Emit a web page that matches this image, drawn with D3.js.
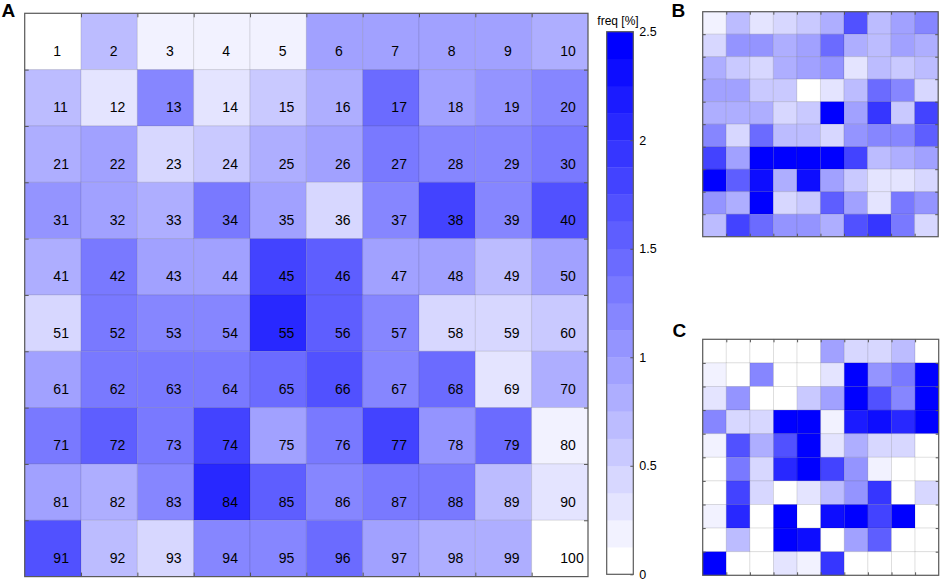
<!DOCTYPE html>
<html>
<head>
<meta charset="utf-8">
<script src="https://cdn.jsdelivr.net/npm/d3@7"></script>
<style>
  html, body { margin: 0; padding: 0; background: #fff; }
  svg { display: block; font-family: "Liberation Sans", Arial, sans-serif; }
</style>
</head>
<body>
<svg id="chart" width="941" height="582"></svg>
<script>
// ---- data (frequency in %) ----
const freqA = [
  [0.05,0.69,0.19,0.19,0.19,0.94,0.94,0.94,0.94,0.81],
  [0.68,0.30,1.18,0.28,0.55,0.80,1.42,0.93,1.05,1.20],
  [0.82,0.95,0.43,0.54,0.81,0.92,1.30,1.17,1.19,1.32],
  [1.07,0.94,0.83,1.31,0.96,0.42,1.18,1.82,1.20,1.68],
  [0.80,1.33,0.93,0.92,1.80,1.57,0.95,0.94,0.70,0.96],
  [0.41,1.29,1.16,1.21,2.07,1.58,1.19,0.44,0.40,0.57],
  [0.93,1.31,1.28,1.30,1.44,1.70,1.17,1.43,0.30,0.82],
  [1.32,1.56,1.30,1.83,0.95,1.31,1.81,1.07,1.45,0.18],
  [0.94,0.82,1.18,2.05,1.57,1.19,1.33,1.30,0.68,0.31],
  [1.69,0.70,0.43,1.18,1.19,1.42,0.93,0.82,0.81,0.04]
];
const freqB = [
  [0.19,0.69,0.31,0.44,0.56,0.81,1.69,0.69,0.94,1.19],
  [0.44,1.06,1.06,0.81,0.94,1.44,0.81,0.69,0.94,0.81],
  [0.81,0.56,0.44,0.81,0.94,1.06,0.31,0.69,0.56,0.69],
  [0.94,0.94,0.56,0.56,0.05,0.31,0.69,1.44,1.19,0.44],
  [0.81,0.81,0.81,0.44,0.56,2.45,0.94,1.94,0.56,1.81],
  [1.19,0.44,1.44,0.69,0.69,0.44,1.06,1.19,1.19,1.56],
  [1.81,0.94,2.45,2.45,2.45,2.45,1.81,0.69,0.81,0.94],
  [2.45,1.56,2.31,0.81,2.31,0.94,0.56,0.31,0.31,0.44],
  [1.06,0.81,2.45,0.44,0.56,1.56,0.94,0.31,1.31,1.06],
  [0.69,1.81,1.44,1.06,1.06,0.81,1.69,1.94,1.31,0.44]
];
const freqC = [
  [0,0,0,0,0,0.94,0.44,0.44,0.69,0],
  [0.19,0,1.19,0,0,0.31,2.7,1.06,1.31,2.7],
  [0.31,1.06,0,0,0.56,0.94,2.7,1.69,1.19,2.7],
  [1.19,0.44,0.44,2.7,2.7,0.19,2.19,2.31,2.06,2.7],
  [0.19,1.69,0.81,1.69,2.7,0.31,0.81,0.44,0.44,0],
  [0,1.31,0.44,2.06,2.7,1.81,1.06,0.19,0,0],
  [0,1.81,0.44,0,0.31,0.69,1.06,1.94,0,0.44],
  [0.19,2.06,0,2.7,0,2.31,2.7,1.81,2.7,0],
  [0,0.69,0,2.7,2.31,0,0.94,1.56,0,0],
  [2.7,0,0,0.31,0.19,1.94,0,0,0,0]
];
const colorbarTicks = [0, 0.5, 1, 1.5, 2, 2.5];
const colorbarTitle = "freq [%]";
const panelLabels = ["A", "B", "C"];
const nLevels = 20;

// ---- colour scale ----
const levels = d3.range(nLevels).map(i => d3.interpolateRgb("#ffffff", "#0000ff")(i / (nLevels - 1)));
const color = d3.scaleQuantize().domain([0, 2.5]).range(levels);

const svg = d3.select("#chart");

function heatmap(data, box, opts) {
  const n = data.length;
  const x = d3.scaleLinear().domain([0, n]).range([box.x, box.x + box.w]);
  const y = d3.scaleLinear().domain([0, n]).range([box.y, box.y + box.h]);
  const g = svg.append("g");
  const cells = [];
  data.forEach((row, r) => row.forEach((v, c) => cells.push({ r, c, v, id: r * n + c + 1 })));
  g.selectAll("rect.cell").data(cells).join("rect")
    .attr("class", "cell")
    .attr("x", d => x(d.c)).attr("y", d => y(d.r))
    .attr("width", x(1) - x(0)).attr("height", y(1) - y(0))
    .attr("fill", d => color(d.v))
    .attr("stroke", "rgba(0,0,0,0.09)").attr("stroke-width", 1);
  if (opts.labels) {
    g.selectAll("text.num").data(cells).join("text")
      .attr("class", "num")
      .attr("x", d => x(d.c + 0.5) + 0.5)
      .attr("y", d => y(d.r + 0.5) + 14.4)
      .attr("font-size", 14).attr("fill", "#000")
      .text(d => d.id);
  }
  const tv = d3.range(1, n);
  const ts = opts.tick;
  const mk = (axis, tr) => g.append("g").attr("transform", tr)
    .call(axis.tickValues(tv).tickFormat("").tickSizeInner(-ts).tickSizeOuter(0))
    .call(s => s.select(".domain").remove())
    .call(s => s.selectAll("line").attr("stroke", "#555"));
  mk(d3.axisTop(x), `translate(0,${box.y})`);
  mk(d3.axisBottom(x), `translate(0,${box.y + box.h})`);
  mk(d3.axisLeft(y), `translate(${box.x},0)`);
  mk(d3.axisRight(y), `translate(${box.x + box.w},0)`);
  g.append("rect").attr("x", box.x).attr("y", box.y).attr("width", box.w).attr("height", box.h)
    .attr("fill", "none").attr("stroke", "#5a5a5a").attr("stroke-width", 1.2);
}

heatmap(freqA, { x: 24.7, y: 13.3, w: 563.3, h: 563.3 }, { labels: true, tick: 4 });
heatmap(freqB, { x: 702.7, y: 11.7, w: 235.5, h: 225 }, { labels: false, tick: 3 });
heatmap(freqC, { x: 702.7, y: 339.3, w: 236, h: 236 }, { labels: false, tick: 3 });

// ---- colorbar ----
const cb = { x: 606.7, y: 31.7, w: 26.6, h: 542.6 };
const cy = d3.scaleLinear().domain([0, 2.5]).range([cb.y + cb.h, cb.y]);
const step = 2.5 / nLevels;
const cbg = svg.append("g");
cbg.selectAll("rect.lv").data(levels).join("rect")
  .attr("class", "lv")
  .attr("x", cb.x).attr("width", cb.w)
  .attr("y", (d, i) => cy((i + 1) * step))
  .attr("height", (d, i) => cy(i * step) - cy((i + 1) * step) + 0.3)
  .attr("fill", d => d);
cbg.append("g").attr("transform", `translate(${cb.x + cb.w},0)`)
  .call(d3.axisRight(cy).tickValues(colorbarTicks).tickFormat(d3.format("")).tickSizeInner(-3).tickSizeOuter(0).tickPadding(6))
  .call(s => s.select(".domain").remove())
  .call(s => s.selectAll("line").attr("stroke", "#555"))
  .call(s => s.selectAll("text").attr("font-size", 12.5).attr("fill", "#000").attr("font-family", "Liberation Sans, Arial, sans-serif"));
cbg.append("rect").attr("x", cb.x).attr("y", cb.y).attr("width", cb.w).attr("height", cb.h)
  .attr("fill", "none").attr("stroke", "#5a5a5a").attr("stroke-width", 1.2);
cbg.append("text").attr("x", cb.x + cb.w / 2 - 2).attr("y", 25)
  .attr("text-anchor", "middle").attr("font-size", 12).attr("fill", "#000").text(colorbarTitle);

// ---- panel labels ----
const labelPos = [[1.5, 17.3], [671.5, 17], [672.5, 336.7]];
svg.selectAll("text.plabel").data(panelLabels).join("text")
  .attr("class", "plabel")
  .attr("x", (d, i) => labelPos[i][0]).attr("y", (d, i) => labelPos[i][1])
  .attr("font-size", 19).attr("font-weight", "bold").attr("fill", "#000")
  .text(d => d);
</script>
</body>
</html>
